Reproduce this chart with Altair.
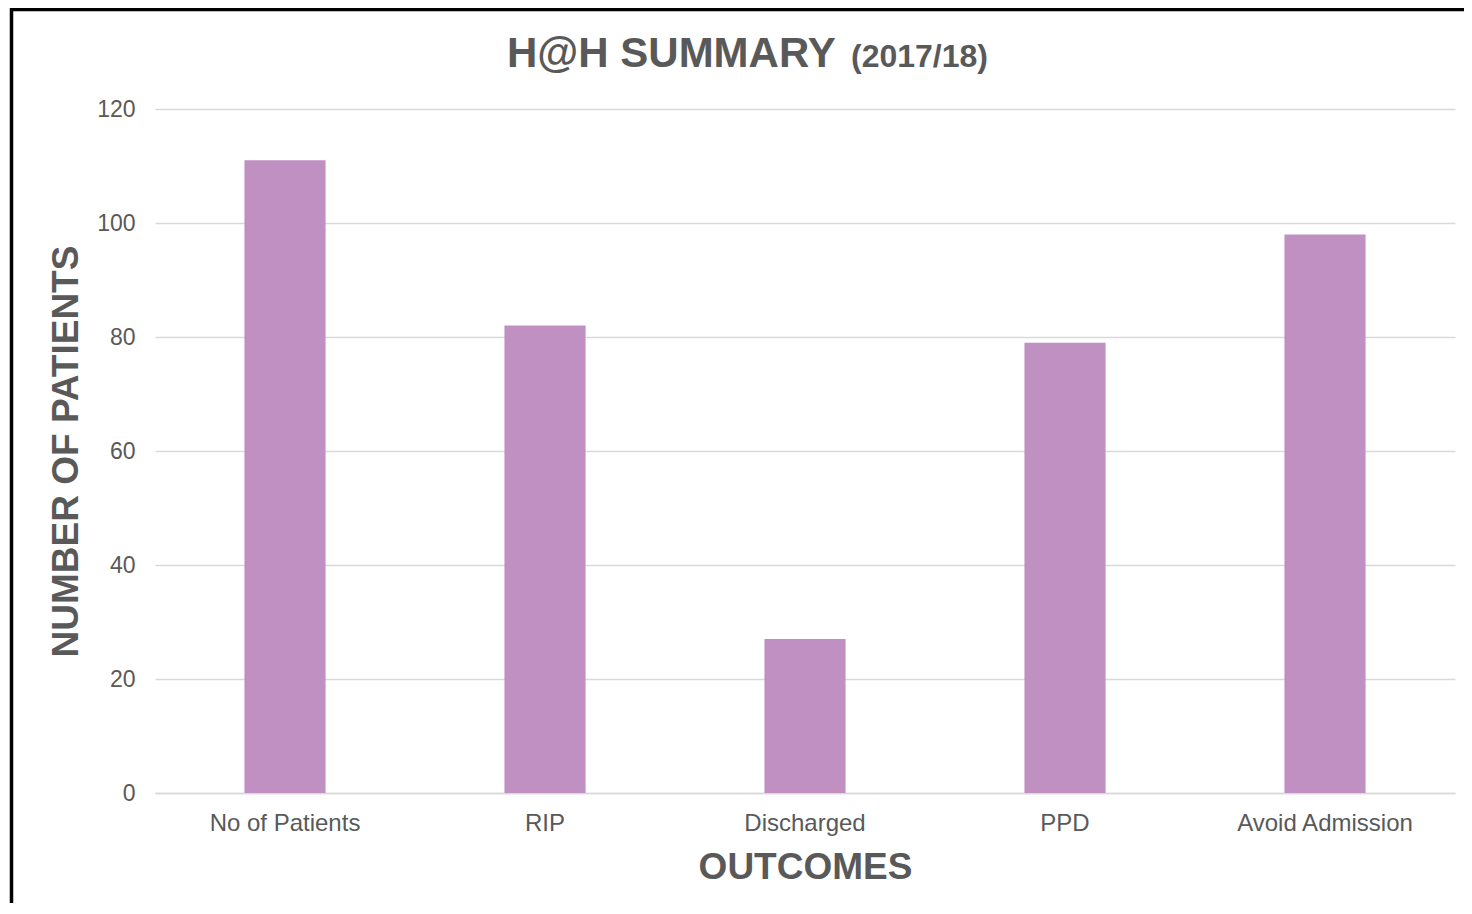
import altair as alt
import pandas as pd

categories = ["No of Patients", "RIP", "Discharged", "PPD", "Avoid Admission"]
values = [111, 82, 27, 79, 98]
y_ticks = [0, 20, 40, 60, 80, 100, 120]
title_main = "H@H SUMMARY"
title_sub = "(2017/18)"

df = pd.DataFrame({"outcome": categories, "patients": values})

W, H = 1300, 684
PAD_L, PAD_T, PAD_R, PAD_B = 147, 101, 9, 110
GREY = "#595959"
FONT = "Liberation Sans"

bars = alt.Chart(df).mark_bar(color="#C090C3").encode(
    x=alt.X(
        "outcome:N",
        sort=None,
        scale=alt.Scale(paddingInner=0.688, paddingOuter=0.344),
        axis=alt.Axis(
            title="OUTCOMES",
            labelAngle=0,
            labelFontSize=24,
            labelColor=GREY,
            labelFont=FONT,
            labelPadding=18,
            ticks=False,
            domain=True,
            domainColor="#D9D9D9",
            domainWidth=1.5,
            titleFontSize=37,
            titleFont=FONT,
            titleFontWeight="bold",
            titleColor=GREY,
            titlePadding=14,
        ),
    ),
    y=alt.Y(
        "patients:Q",
        scale=alt.Scale(domain=[0, 120], nice=False),
        axis=alt.Axis(
            title="NUMBER OF PATIENTS",
            values=y_ticks,
            labelFontSize=23,
            labelColor=GREY,
            labelFont=FONT,
            labelPadding=20,
            ticks=False,
            domain=False,
            grid=True,
            gridColor="#D9D9D9",
            gridWidth=1.5,
            titleFontSize=37,
            titleFont=FONT,
            titleFontWeight="bold",
            titleColor=GREY,
            titlePadding=11,
        ),
    ),
)

title1 = alt.Chart(pd.DataFrame({"t": [title_main]})).mark_text(
    align="left", baseline="alphabetic", fontSize=42, fontWeight="bold",
    font=FONT, color=GREY
).encode(x=alt.value(352), y=alt.value(-42), text="t:N")

title2 = alt.Chart(pd.DataFrame({"t": [title_sub]})).mark_text(
    align="left", baseline="alphabetic", fontSize=32, fontWeight="bold",
    font=FONT, color=GREY
).encode(x=alt.value(696), y=alt.value(-42), text="t:N")

border = alt.Chart(pd.DataFrame({"b": [1]})).mark_rect(
    fill="transparent", stroke="black", strokeWidth=3.5
).encode(
    x=alt.value(-143.5), x2=alt.value(W + 200),
    y=alt.value(-99.5), y2=alt.value(H + 300),
)

chart = alt.layer(bars, title1, title2, border).properties(
    width=W,
    height=H,
    autosize=alt.AutoSizeParams(type="none"),
    padding={"left": PAD_L, "top": PAD_T, "right": PAD_R, "bottom": PAD_B},
    background="white",
).configure_view(stroke=None)

chart.save("out.html", embed_options={"renderer": "svg", "actions": False})
